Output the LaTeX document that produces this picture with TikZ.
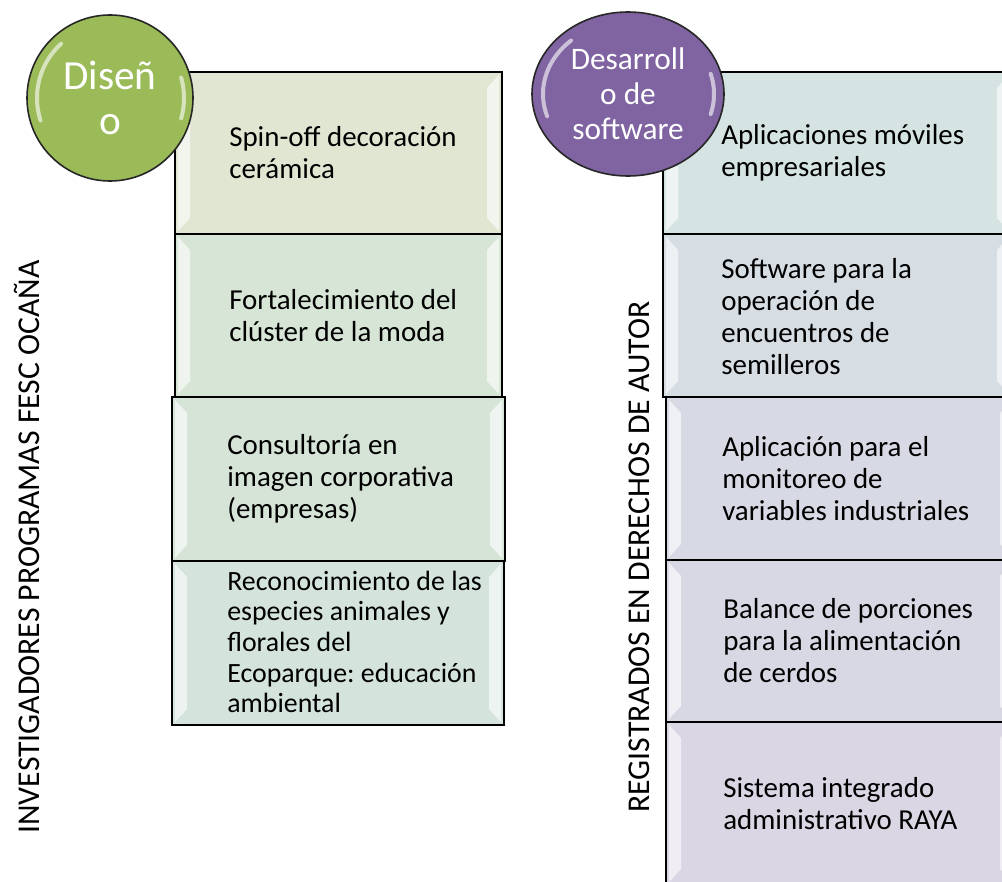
\documentclass[tikz,border=0pt]{standalone}
\usepackage{fontspec}
\setmainfont{Carlito}
\frenchspacing
\usetikzlibrary{shapes.geometric,calc}
\definecolor{lba}{HTML}{E0E6D2}
\definecolor{lbb}{HTML}{D7E5D6}
\definecolor{lbc}{HTML}{D6E4D8}
\definecolor{lbd}{HTML}{D4E3DC}
\definecolor{rba}{HTML}{D5E4E3}
\definecolor{rbb}{HTML}{D6DDE3}
\definecolor{rbc}{HTML}{D7DAE5}
\definecolor{rbd}{HTML}{D8D8E4}
\definecolor{rbe}{HTML}{DAD6E4}
\definecolor{dgreen}{HTML}{9BBB59}
\definecolor{dpurple}{HTML}{8064A2}
\tikzset{
  card/.style={rectangle, draw=black, line width=1.5pt, inner sep=0pt,
    path picture={
      \coordinate (nw) at (path picture bounding box.north west);
      \coordinate (se) at (path picture bounding box.south east);
      \fill[white, opacity=0.6] ($(nw)+(3,3)$) -- ($(nw)+(15,16)$) -- ($(nw|-se)+(15,-16)$) -- ($(nw|-se)+(3,-3)$) -- cycle;
      \fill[white, opacity=0.6] ($(se|-nw)+(-3,3)$) -- ($(se|-nw)+(-15,16)$) -- ($(se)+(-15,-16)$) -- ($(se)+(-3,-3)$) -- cycle;
    }},
  lcard/.style={card, minimum width={327*0.75pt}},
  rcard/.style={card, minimum width={349*0.75pt}},
  txt/.style={anchor=west, inner sep=0pt, align=left, font=\fontsize{21.7pt}{24pt}\selectfont},
  sidelabel/.style={rotate=90, inner sep=0pt, font=\fontsize{23.8pt}{28pt}\selectfont},
  bubble/.style={draw=black!85, line width=1.2pt, text=white, align=center, inner sep=0pt},
  gloss/.style={white, opacity=0.6, line width=3pt, line cap=round},
}
\begin{document}
\begin{tikzpicture}[x=0.75pt, y=-0.75pt]
\useasboundingbox (0,0) rectangle (1002,881);
\clip (0,0) rectangle (1002,881);
\fill[white] (0,0) rectangle (1002,881);

% left column
\node[lcard, fill=lba, minimum height={162*0.75pt}] (l1) at (338.5,153) {};
\node[lcard, fill=lbb, minimum height={163*0.75pt}] (l2) at (338.5,315.5) {};
\node[card, fill=lbc, minimum width={333*0.75pt}, minimum height={164*0.75pt}] (l3) at (338.5,479) {};
\node[card, fill=lbd, minimum width={332*0.75pt}, minimum height={164*0.75pt}] (l4) at (338,643) {};

\node[txt] (t1) at (229,153) {Spin-off decoración\\cerámica};
\node[txt] (t2) at (229,316) {Fortalecimiento del\\clúster de la moda};
\node[txt] (t3) at (227,479) {Consultoría en\\imagen corporativa\\(empresas)};
\node[txt, font=\fontsize{20.9pt}{23pt}\selectfont] (t4) at (227,642) {Reconocimiento de las\\especies animales y\\florales del\\Ecoparque: educación\\ambiental};

% right column
\node[rcard, fill=rba, minimum height={162*0.75pt}] (r1) at (837.5,153) {};
\node[rcard, fill=rbb, minimum height={163*0.75pt}] (r2) at (837.5,315.5) {};
\node[rcard, fill=rbc, minimum height={163*0.75pt}] (r3) at (840.5,478.5) {};
\node[rcard, fill=rbd, minimum height={162*0.75pt}] (r4) at (840.5,641) {};
\node[rcard, fill=rbe, minimum height={163*0.75pt}] (r5) at (840.5,803.5) {};

\node[txt] (s1) at (721,153) {Aplicaciones móviles\\empresariales};
\node[txt] (s2) at (721,317) {Software para la\\operación de\\encuentros de\\semilleros};
\node[txt] (s3) at (722,479) {Aplicación para el\\monitoreo de\\variables industriales};
\node[txt] (s4) at (723,641) {Balance de porciones\\para la alimentación\\de cerdos};
\node[txt] (s5) at (723,804) {Sistema integrado\\administrativo RAYA};

% side labels
\node[sidelabel] (lab1) at (27,547) {INVESTIGADORES PROGRAMAS FESC OCAÑA};
\node[sidelabel] (lab2) at (639,557) {REGISTRADOS EN DERECHOS DE AUTOR};

% bubbles
\node[bubble, circle, fill=dgreen, minimum size={166*0.75pt}, font=\fontsize{31pt}{34pt}\selectfont] (dis) at (110,98) {Diseñ\\o};
\draw[gloss] plot[domain=-132:-198, samples=30, smooth] ({110+73*cos(\x)},{98+73*sin(\x)});
\draw[gloss] plot[domain=-16:16, samples=20, smooth] ({110+74*cos(\x)},{98+74*sin(\x)});

\node[bubble, ellipse, fill=dpurple, minimum width={192*0.75pt}, minimum height={164*0.75pt}, font=\fontsize{23.5pt}{26.3pt}\selectfont] (dev) at (628,94) {Desarroll\\o de\\software};
\draw[gloss] plot[domain=-132:-198, samples=30, smooth] ({628+85*cos(\x)},{94+72*sin(\x)});
\draw[gloss] plot[domain=-16:16, samples=20, smooth] ({628+86*cos(\x)},{94+73*sin(\x)});
\end{tikzpicture}
\end{document}
